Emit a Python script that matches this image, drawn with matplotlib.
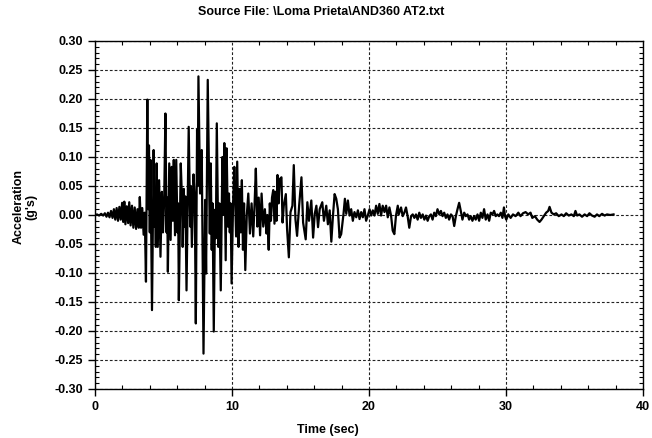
import matplotlib
matplotlib.use("Agg")
import matplotlib.pyplot as plt
from matplotlib.ticker import MultipleLocator, FormatStrFormatter

# digitised record, split in phases: time (sec) / acceleration (g's)
onset_t = [
    0.00, 0.15, 0.30, 0.45, 0.60, 0.72, 0.84, 0.95, 1.06, 1.17, 1.28, 1.38,
    1.48, 1.58, 1.68, 1.78, 1.88, 1.98, 2.06, 2.14, 2.22, 2.32, 2.42, 2.50,
    2.60, 2.70, 2.80, 2.90, 3.00, 3.10, 3.20, 3.27, 3.36, 3.45, 3.55, 3.63,
]
onset_a = [
    0.000, 0.001, -0.001, 0.002, -0.001, 0.003, -0.003, 0.004, -0.004, 0.007,
    -0.005, 0.010, -0.008, 0.012, -0.010, 0.014, -0.008, 0.021, -0.012, 0.023,
    -0.016, 0.015, -0.014, 0.022, -0.018, 0.016, -0.022, 0.013, -0.024, 0.010,
    -0.022, 0.031, -0.022, 0.012, -0.034, 0.004,
]

strong_t = [
    3.72, 3.82, 3.88, 3.94, 4.00, 4.05, 4.16, 4.28, 4.34, 4.38, 4.44, 4.50,
    4.58, 4.68, 4.78, 4.88, 4.96, 5.05, 5.14, 5.22, 5.27, 5.32, 5.42, 5.52,
    5.60, 5.68, 5.75, 5.84, 5.93, 6.02, 6.07, 6.12, 6.26, 6.36, 6.40, 6.48,
    6.55, 6.60, 6.68, 6.84, 6.95, 7.00, 7.07, 7.19, 7.28, 7.36, 7.45, 7.50,
    7.55, 7.67, 7.79, 7.92, 8.04, 8.11, 8.23, 8.38, 8.45, 8.52, 8.58, 8.67,
    8.76, 8.82, 8.89, 9.00, 9.08, 9.18, 9.30, 9.39, 9.44, 9.54, 9.61, 9.70,
    9.78, 9.84, 9.90, 9.97, 10.08, 10.17, 10.30, 10.38, 10.48, 10.56, 10.64,
    10.72, 10.80, 10.88, 10.97, 11.08, 11.19, 11.31, 11.43, 11.55, 11.65,
    11.74, 11.85, 11.95, 12.05, 12.16, 12.28, 12.40, 12.52, 12.58, 12.68,
    12.76, 12.84, 12.92, 13.01, 13.10, 13.18, 13.25, 13.32, 13.40,
]
strong_a = [
    -0.115, 0.199, 0.010, 0.120, -0.030, 0.095, -0.164, 0.112, -0.020, 0.040,
    -0.055, 0.089, -0.055, 0.060, -0.072, 0.040, -0.030, 0.025, 0.175, -0.030,
    0.030, -0.098, 0.089, -0.043, 0.083, -0.010, 0.095, -0.035, 0.095, -0.030,
    0.020, -0.147, 0.089, 0.020, -0.055, 0.045, -0.020, 0.032, -0.130, 0.152,
    -0.020, 0.050, -0.055, 0.070, 0.030, -0.187, 0.147, 0.050, 0.239, 0.037,
    0.112, -0.239, 0.026, -0.101, 0.233, -0.032, 0.089, -0.060, 0.020, -0.201,
    0.009, -0.040, 0.158, -0.055, 0.020, -0.130, 0.100, 0.000, 0.124, -0.078,
    0.115, -0.020, 0.037, -0.030, 0.020, -0.118, 0.020, 0.083, -0.037, 0.092,
    -0.055, 0.045, -0.030, 0.060, -0.060, 0.020, -0.095, 0.000, 0.037, -0.032,
    0.020, -0.037, 0.020, 0.080, -0.020, 0.030, -0.035, 0.037, -0.020, 0.010,
    -0.032, 0.000, -0.060, 0.020, -0.010, 0.030, 0.043, -0.015, 0.040, -0.010,
    0.069, 0.020,
]

late_t = [
    13.49, 13.61, 13.69, 13.78, 13.93, 14.02, 14.15, 14.27, 14.41, 14.51,
    14.63, 14.75, 14.90, 15.07, 15.19, 15.38, 15.50, 15.62, 15.79, 15.92,
    16.04, 16.16, 16.28, 16.40, 16.59, 16.71, 16.88, 17.00, 17.13, 17.25,
    17.37, 17.49, 17.61, 17.73, 17.85, 17.97, 18.14, 18.24, 18.34, 18.46,
    18.58, 18.70, 18.82, 18.94, 19.07, 19.19, 19.31, 19.43, 19.55, 19.67,
    19.79, 19.91, 20.04, 20.16, 20.28, 20.40, 20.52, 20.64, 20.76, 20.88,
    21.00, 21.13, 21.25, 21.37, 21.49, 21.61, 21.73, 21.85, 21.97, 22.10,
]
late_a = [
    0.062, 0.065, -0.013, 0.016, 0.036, -0.024, -0.073, 0.005, 0.016, 0.086,
    -0.007, -0.036, 0.016, 0.065, -0.013, -0.042, 0.022, -0.010, 0.025, -0.039,
    0.002, 0.016, -0.021, 0.010, 0.022, -0.010, 0.016, -0.016, 0.008, -0.046,
    -0.001, 0.036, 0.028, 0.010, -0.039, -0.033, 0.002, 0.028, 0.002, 0.025,
    -0.001, 0.010, -0.010, 0.005, -0.004, 0.008, -0.007, 0.005, -0.004, 0.010,
    -0.010, -0.001, 0.010, -0.001, 0.008, -0.001, 0.016, 0.002, 0.019, -0.001,
    0.016, 0.005, 0.016, -0.004, 0.013, -0.001, -0.027, -0.033, -0.001, 0.016,
]

coda_t = [
    22.17, 22.34, 22.46, 22.58, 22.70, 22.82, 22.94, 23.07, 23.19, 23.31,
    23.43, 23.55, 23.67, 23.79, 23.92, 24.04, 24.16, 24.28, 24.40, 24.52,
    24.64, 24.76, 24.88, 25.00, 25.13, 25.25, 25.37, 25.49, 25.61, 25.73,
    25.85, 25.98, 26.10, 26.22, 26.34, 26.46, 26.58, 26.70, 26.82, 26.95,
    27.07, 27.19, 27.31, 27.43, 27.55, 27.67, 27.79, 27.92, 28.04, 28.16,
    28.28, 28.40, 28.52, 28.65, 28.77, 28.89, 29.01, 29.13, 29.25, 29.37,
    29.49, 29.62, 29.74, 29.85, 29.93, 30.02, 30.17, 30.34, 30.51, 30.70,
    30.90, 31.06, 31.24, 31.43, 31.62, 31.79, 31.92, 32.11, 32.28, 32.45,
    32.59, 32.76, 32.93, 33.08, 33.18, 33.32, 33.49, 33.66, 33.85, 34.05,
    34.22, 34.39, 34.58, 34.77, 34.95, 35.07, 35.19, 35.36, 35.55, 35.74,
    35.92, 36.09, 36.28, 36.47, 36.64, 36.81, 37.01, 37.20, 37.37, 37.61,
    37.85,
]
coda_a = [
    0.001, 0.013, -0.002, 0.004, 0.013, -0.002, -0.022, -0.002, 0.001, -0.005,
    0.001, -0.008, 0.004, -0.005, 0.001, -0.008, -0.001, -0.010, -0.002, 0.001,
    -0.008, 0.004, -0.002, 0.010, 0.001, 0.007, -0.002, 0.004, -0.005, 0.001,
    -0.008, 0.001, -0.002, -0.019, -0.002, 0.010, 0.021, 0.007, -0.008, 0.004,
    -0.002, 0.001, -0.008, -0.002, -0.010, -0.002, -0.008, 0.001, -0.010, 0.004,
    -0.005, 0.010, -0.008, 0.001, -0.010, 0.004, 0.001, 0.007, -0.002, 0.001,
    -0.002, 0.004, -0.005, 0.013, -0.002, -0.008, 0.001, -0.005, 0.001, -0.002,
    0.004, -0.002, 0.003, 0.005, 0.001, 0.004, -0.005, -0.002, -0.008, -0.012,
    -0.008, -0.002, 0.004, 0.007, 0.014, 0.004, 0.001, 0.003, -0.002, 0.001,
    -0.002, 0.003, -0.001, 0.001, -0.002, 0.007, -0.001, 0.001, -0.003, 0.001,
    -0.002, 0.003, -0.001, -0.003, 0.001, -0.002, 0.002, -0.001, 0.001, 0.000,
    0.001,
]

time_s = onset_t + strong_t + late_t + coda_t
accel_g = onset_a + strong_a + late_a + coda_a

title = "Source File: \\Loma Prieta\\AND360 AT2.txt"
x_label = "Time (sec)"
y_label = "Acceleration\n(g's)"

plt.rcParams['font.family'] = ['Liberation Sans', 'DejaVu Sans']
plt.rcParams['font.weight'] = 'bold'

fig = plt.figure(figsize=(6.52, 4.38), dpi=100)
ax = fig.add_axes([0.1457, 0.1119, 0.8405, 0.7945])

ax.plot(time_s, accel_g, color='black', lw=1.6, zorder=3)

ax.set_xlim(0, 40)
ax.set_ylim(-0.30, 0.30)
ax.xaxis.set_major_locator(MultipleLocator(10))
ax.xaxis.set_minor_locator(MultipleLocator(2))
ax.yaxis.set_major_locator(MultipleLocator(0.05))
ax.yaxis.set_minor_locator(MultipleLocator(0.01))
ax.yaxis.set_major_formatter(FormatStrFormatter('%.2f'))

# dashed grid on the major ticks
ax.grid(True, which='major', color='#222222', lw=0.8, linestyle=(0, (2.5, 1.8)))

ax.tick_params(which='major', direction='out', length=5, width=1,
               labelsize=9, top=False, right=False)
ax.tick_params(which='minor', direction='in', length=3, width=0.8,
               top=True, right=True)
for lab in ax.get_xticklabels() + ax.get_yticklabels():
    lab.set_fontweight('bold')
for sp in ax.spines.values():
    sp.set_linewidth(1.0)

fig.suptitle(title, x=0.493, y=0.972, va='center', fontsize=9, fontweight='bold')
ax.set_xlabel(x_label, fontsize=9, fontweight='bold')
ax.xaxis.set_label_coords(0.425, -0.100)
ax.set_ylabel(y_label, fontsize=9, fontweight='bold', linespacing=1.1)
ax.yaxis.set_label_coords(-0.105, 0.523)

fig.savefig("out.png", dpi=100)
